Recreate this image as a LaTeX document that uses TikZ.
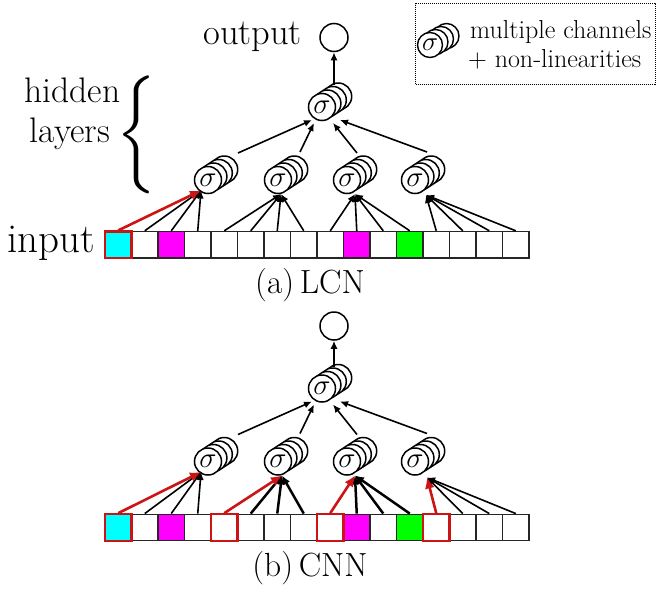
\documentclass[tikz,border=0pt]{standalone}
\usepackage{fix-cm}
\usepackage{graphicx}
\usetikzlibrary{arrows.meta,calc}
\definecolor{redc}{RGB}{205,20,20}
\definecolor{sqcyan}{RGB}{0,255,255}
\definecolor{sqmag}{RGB}{255,0,255}
\definecolor{sqgreen}{RGB}{0,255,0}
\tikzset{
  ring/.style={draw=black, fill=white, line width=1.5pt},
  front/.style={circle, draw=black, fill=white, line width=1.5pt, minimum size=27pt, inner sep=0pt, font=\fontsize{29}{32}\selectfont},
  lring/.style={draw=black, fill=white, line width=1.4pt},
  lfront/.style={circle, draw=black, fill=white, line width=1.4pt, minimum size=25pt, inner sep=0pt, font=\fontsize{27}{30}\selectfont},
  outc/.style={circle, draw=black, fill=white, line width=1.5pt, minimum size=28pt, inner sep=0pt},
  sq/.style={draw=black!85, line width=1.4pt, minimum size=26.5pt, inner sep=0pt},
  redsq/.style={draw=redc, line width=2.2pt, minimum size=26.5pt, inner sep=0pt},
  blk/.style={draw=black, line width=1.6pt, -{Latex[length=8pt,width=7pt]}},
  blkthick/.style={draw=black, line width=2.5pt, -{Latex[length=9pt,width=8pt]}},
  redarr/.style={draw=redc, line width=2.6pt, -{Latex[length=11pt,width=10pt]}},
  lbl/.style={inner sep=0pt},
}
\newcommand{\mystack}[3]{%
  \foreach \k in {3,2,1}{\draw[ring] ({#2+5.4*\k},{#3-3.5*\k}) circle[radius=13.5];}
  \node[front] (#1) at (#2,#3) {$\sigma$};}
\begin{document}
\begin{tikzpicture}[x=1pt,y=-1pt]
\useasboundingbox (0,0) rectangle (656,592);

% ---------- legend ----------
\node[draw=black, densely dotted, line width=1pt, minimum width=240pt, minimum height=81pt, inner sep=0pt, anchor=north west] (legend) at (415,3) {};
\foreach \k in {3,2,1}{\draw[lring] ({430+5.5*\k},{45-3*\k}) circle[radius=12.5];}
\node[lfront] (legsig) at (430,45) {$\sigma$};
\node[lbl, anchor=base west, font=\fontsize{26}{30}\selectfont] (leg1) at (470,38) {multiple channels};
\node[lbl, anchor=base west, font=\fontsize{26}{30}\selectfont] (leg2) at (468,67) {$+$ non-linearities};

% ---------- labels ----------
\node[lbl, anchor=base east, font=\fontsize{36.5}{44}\selectfont] (outlbl) at (302,44) {output};
\node[lbl, anchor=base, font=\fontsize{35.5}{42}\selectfont] (hid1) at (72.5,102) {hidden};
\node[lbl, anchor=base, font=\fontsize{35.5}{42}\selectfont] (hid2) at (70,142) {layers};
\node[lbl, anchor=west] (brace) at (116,134.5) {\resizebox*{40pt}{118pt}{$\Big\{$}};
\node[lbl, anchor=base east, font=\fontsize{41}{48}\selectfont] (inlbl) at (95,252) {input};
\node[lbl, anchor=base, font=\fontsize{33.5}{40}\selectfont] (capa) at (310,293) {(a)\,LCN};
\node[lbl, anchor=base, font=\fontsize{33.5}{40}\selectfont] (capb) at (310,576) {(b)\,CNN};

% ---------- (a) LCN ----------
\foreach \i/\c in {0/sqcyan,1/white,2/sqmag,3/white,4/white,5/white,6/white,7/white,8/white,9/sqmag,10/white,11/sqgreen,12/white,13/white,14/white,15/white}
  \node[sq, fill=\c] (a\i) at ({118.25+26.5*\i},244.75) {};
\node[redsq, fill=sqcyan] (a0) at (118.25,244.75) {};

\node[outc] (oa) at (334,37.5) {};
\mystack{la}{322}{107}
\mystack{ha1}{208}{180}
\mystack{ha2}{278}{180}
\mystack{ha3}{347}{180}
\mystack{ha4}{415}{180}

\coordinate (ha1in) at ($(ha1)+(-7,10.5)$);
\coordinate (ha2in) at ($(ha2)+(3,14)$);
\coordinate (ha3in) at ($(ha3)+(8,14)$);
\coordinate (ha4in) at ($(ha4)+(11,15)$);
\draw[blk] (a1.north) -- (ha1in);
\draw[blk] (a2.north) -- (ha1in);
\draw[blk] (a3.north) -- (ha1in);
\draw[redarr] (a0.north) -- (ha1in);
\foreach \i in {4,5,6,7} \draw[blk] (a\i.north) -- (ha2in);
\foreach \i in {8,9,10,11} \draw[blk] (a\i.north) -- (ha3in);
\foreach \i in {12,13,14,15} \draw[blk] (a\i.north) -- (ha4in);

\coordinate (ha1up) at ($(ha1)+(30,-27)$);
\coordinate (ha2up) at ($(ha2)+(22,-28)$);
\coordinate (ha3up) at ($(ha3)+(10,-27)$);
\coordinate (ha4up) at ($(ha4)+(12,-28)$);
\coordinate (la1) at ($(la)+(-10,13)$);
\coordinate (la2) at ($(la)+(-8,16)$);
\coordinate (la3) at ($(la)+(11,16)$);
\coordinate (la4) at ($(la)+(18,13)$);
\draw[blk] (ha1up) -- (la1);
\draw[blk] (ha2up) -- (la2);
\draw[blk] (ha3up) -- (la3);
\draw[blk] (ha4up) -- (la4);
\coordinate (laup) at ($(la)+(12,-22)$);
\draw[blk] (laup) -- (oa.south);

% ---------- (b) CNN ----------
\foreach \i/\c in {0/sqcyan,1/white,2/sqmag,3/white,4/white,5/white,6/white,7/white,8/white,9/sqmag,10/white,11/sqgreen,12/white,13/white,14/white,15/white}
  \node[sq, fill=\c] (b\i) at ({118.25+26.5*\i},527.5) {};
\node[redsq, fill=sqcyan] (b0) at (118.25,527.5) {};
\node[redsq, fill=white] (b4) at ({118.25+26.5*4},527.5) {};
\node[redsq, fill=white] (b8) at ({118.25+26.5*8},527.5) {};
\node[redsq, fill=white] (b12) at ({118.25+26.5*12},527.5) {};

\node[outc] (ob) at (334,326) {};
\mystack{lb}{322}{388.5}
\mystack{hb1}{208}{461.5}
\mystack{hb2}{278}{461.5}
\mystack{hb3}{347}{461.5}
\mystack{hb4}{415}{461.5}

\coordinate (hb1in) at ($(hb1)+(-7,10.5)$);
\coordinate (hb2in) at ($(hb2)+(4,14)$);
\coordinate (hb3in) at ($(hb3)+(8,14)$);
\coordinate (hb4in) at ($(hb4)+(12,16)$);
\foreach \i in {1,2,3} \draw[blk] (b\i.north) -- (hb1in);
\foreach \i in {5,6,7} \draw[blkthick] (b\i.north) -- (hb2in);
\foreach \i in {9,10,11} \draw[blkthick] (b\i.north) -- (hb3in);
\foreach \i in {13,14,15} \draw[blk] (b\i.north) -- (hb4in);
\draw[redarr] (b0.north) -- (hb1in);
\draw[redarr] (b4.north) -- (hb2in);
\draw[redarr] (b8.north) -- (hb3in);
\draw[redarr] (b12.north) -- (hb4in);

\coordinate (hb1up) at ($(hb1)+(30,-27)$);
\coordinate (hb2up) at ($(hb2)+(22,-28)$);
\coordinate (hb3up) at ($(hb3)+(10,-27)$);
\coordinate (hb4up) at ($(hb4)+(12,-28)$);
\coordinate (lb1) at ($(lb)+(-10,13)$);
\coordinate (lb2) at ($(lb)+(-8,16)$);
\coordinate (lb3) at ($(lb)+(11,16)$);
\coordinate (lb4) at ($(lb)+(18,13)$);
\draw[blk] (hb1up) -- (lb1);
\draw[blk] (hb2up) -- (lb2);
\draw[blk] (hb3up) -- (lb3);
\draw[blk] (hb4up) -- (lb4);
\coordinate (lbup) at ($(lb)+(12,-22)$);
\draw[blk] (lbup) -- (ob.south);
\end{tikzpicture}
\end{document}
